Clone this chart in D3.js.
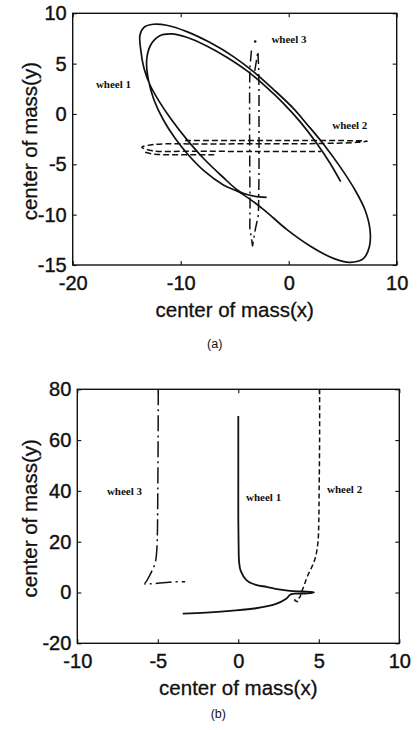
<!DOCTYPE html>
<html>
<head>
<meta charset="utf-8">
<script src="https://cdn.jsdelivr.net/npm/d3@7"></script>
<style>
body { margin: 0; background: #fff; }
text { font-family: "Liberation Sans", Arial, sans-serif; fill: #111; }
.lbl { font-family: "Liberation Serif", "Times New Roman", serif; font-weight: bold; font-size: 11px; }
</style>
</head>
<body>
<script>
// ---- panel (a) data : center of mass trajectories
var xTicksA = [-20, -10, 0, 10];
var yTicksA = [-15, -10, -5, 0, 5, 10];

// wheel 1: precessing ellipse
var wheel1A = [[4.81,-6.72],[3.83,-4.90],[2.59,-2.91],[1.05,-0.76],[-0.49,1.06],[-2.04,2.65],
  [-3.89,4.30],[-5.74,5.63],[-7.59,6.75],[-9.44,7.62],[-10.83,7.95],[-11.98,7.75],[-12.78,6.85],
  [-13.15,5.36],[-12.99,3.38],[-12.47,1.39],[-11.60,-0.60],[-10.52,-2.42],[-9.29,-4.07],
  [-7.75,-5.73],[-6.05,-7.05],[-4.51,-7.81],[-2.35,-9.47],[-0.19,-11.46],[1.98,-13.11],
  [4.14,-14.34],[5.68,-14.74],[6.91,-14.37],[7.47,-13.18],[7.53,-11.52],[7.07,-9.54],
  [6.14,-7.55],[4.75,-5.23],[3.21,-2.98],[1.67,-0.99],[0.43,0.56],[-1.42,2.45],[-3.27,4.21],
  [-5.12,5.70],[-7.28,7.09],[-9.44,8.18],[-11.30,8.81],[-12.53,8.91],[-13.40,8.61],
  [-13.77,7.85],[-13.70,6.36],[-13.40,4.54],[-12.84,2.88],[-11.98,1.23],[-10.83,-0.60],
  [-9.44,-2.52],[-7.90,-4.40],[-6.20,-6.16],[-4.51,-7.72],[-3.27,-8.15],[-2.04,-8.28]];

// wheel 2: long flat loop (dashed)
var wheel2A = [[-9.6,-2.64],[-5,-2.63],[0,-2.63],[4,-2.64],[6.3,-2.66],[7.27,-2.7],[6.3,-2.82],
  [3,-2.93],[-2,-2.96],[-8,-2.98],[-12.4,-3.02],[-13.6,-3.3],[-12.6,-3.66],[-9,-3.7],
  [-3,-3.72],[3.0,-3.72]];
var wheel2A2 = [[-6.9,-4.05],[-10,-4.05],[-12.4,-4.0],[-13.3,-3.8]];

// wheel 3: narrow vertical loop (dash-dot)
var wheel3A = [[-3.45,6.3],[-3.6,4.5],[-3.62,2],[-3.62,-2],[-3.6,-6],[-3.58,-9],[-3.6,-11.3],
  [-3.35,-13.1],[-3.1,-11.5],[-2.8,-10],[-2.75,-6],[-2.75,-2],[-2.75,2],[-2.78,4.5],
  [-2.85,6.2],[-3.2,3.9]];
var wheel3ADot = [[-3.1,7.2]];

var labelsA = [["wheel 1",-17.85,2.6],["wheel 3",-1.6,7.04],["wheel 2",4.03,-1.49]];

// ---- panel (b) data
var xTicksB = [-10, -5, 0, 5, 10];
var yTicksB = [-20, 0, 20, 40, 60, 80];

var wheel1B = [[0,69.5],[0,60],[0,45],[0,30],[0.02,18],[0.05,12],[0.15,8.5],[0.52,4.8],
  [1.1,3.0],[1.76,2.2],[2.5,1.2],[3.2,0.63],[4.0,0.4],[4.7,0.1],[4.3,-0.35],[3.6,-0.45],
  [3.3,-0.6],[3.2,-1.0],[2.95,-2.6],[2.3,-4.6],[1.1,-6.2],[-0.5,-7.2],[-2.0,-7.9],[-3.45,-8.3]];

var wheel2B = [[5.05,80],[5.05,60],[5.02,40],[5.0,28],[4.95,20],[4.8,14],[4.6,10.5],[4.3,6.5],
  [4.1,3],[3.95,0.5],[3.85,-1.5],[3.8,-2.0],[3.5,-3.0],[3.77,-3.8]];

var wheel3B = [[-4.97,80],[-4.98,60],[-5.0,40],[-5.02,25],[-5.05,18],[-5.15,12],[-5.4,8],
  [-5.65,5],[-5.8,3.4],[-5.5,3.4],[-5.0,3.6],[-4.5,3.9],[-4.0,4.2],[-3.3,4.2]];

var labelsB = [["wheel 3",-8.16,38.3],["wheel 1",0.48,35.9],["wheel 2",5.51,39.1]];

var width = 418, height = 730;

var svg = d3.select("body").append("svg")
    .attr("width", width)
    .attr("height", height);

// plain hyphen minus like the original figure
var fmt = function (d) { return String(d); };

function drawPanel(p) {
    var x = d3.scaleLinear().domain(d3.extent(p.xTicks)).range([p.left, p.right]);
    var y = d3.scaleLinear().domain(d3.extent(p.yTicks)).range([p.bottom, p.top]);

    var g = svg.append("g");

    // inward ticks on all four sides, labels only bottom / left
    var axes = [
        [d3.axisBottom(x).tickValues(p.xTicks).tickSize(-4).tickPadding(11).tickFormat(fmt), p.bottom, "x"],
        [d3.axisTop(x).tickValues(p.xTicks).tickSize(-4).tickFormat(""), p.top, "x"],
        [d3.axisLeft(y).tickValues(p.yTicks).tickSize(-4).tickPadding(6).tickFormat(fmt), p.left, "y"],
        [d3.axisRight(y).tickValues(p.yTicks).tickSize(-4).tickFormat(""), p.right, "y"]
    ];
    axes.forEach(function (a) {
        var ag = g.append("g")
            .attr("transform", a[2] == "x" ? "translate(0," + a[1] + ")" : "translate(" + a[1] + ",0)")
            .call(a[0]);
        ag.select(".domain").remove();
        ag.selectAll("line").attr("stroke", "#111").attr("stroke-width", 1.1);
        ag.attr("font-size", null).attr("font-family", null);
        ag.selectAll("text")
            .style("font-size", "20px")
            .attr("fill", "#111")
            .attr("stroke", "#111")
            .attr("stroke-width", 0.4);
    });

    // frame
    g.append("rect")
        .attr("x", p.left).attr("y", p.top)
        .attr("width", p.right - p.left).attr("height", p.bottom - p.top)
        .attr("fill", "none").attr("stroke", "#111").attr("stroke-width", 1.4);

    var line = d3.line()
        .x(function (d) { return x(d[0]); })
        .y(function (d) { return y(d[1]); });

    p.series.forEach(function (s) {
        g.append("path")
            .datum(s.data)
            .attr("fill", "none")
            .attr("stroke", "#111")
            .attr("stroke-width", s.w)
            .attr("stroke-dasharray", s.dash)
            .attr("stroke-linejoin", "round")
            .attr("d", line.curve(s.smooth ? d3.curveCatmullRom.alpha(0.5) : d3.curveLinear));
    });

    (p.dots || []).forEach(function (d) {
        g.append("circle").attr("cx", x(d[0])).attr("cy", y(d[1])).attr("r", 1.3).attr("fill", "#111");
    });

    g.selectAll(".lbl").data(p.labels).enter().append("text")
        .attr("class", "lbl")
        .attr("x", function (d) { return x(d[1]); })
        .attr("y", function (d) { return y(d[2]); })
        .text(function (d) { return d[0]; });

    var cx = (p.left + p.right) / 2, cy = (p.top + p.bottom) / 2;
    g.append("text")
        .attr("x", cx).attr("y", p.bottom + 52)
        .attr("text-anchor", "middle")
        .style("font-size", "20.5px")
        .attr("stroke", "#111").attr("stroke-width", 0.3)
        .text("center of mass(x)");
    g.append("text")
        .attr("transform", "translate(37," + (cy + 2) + ") rotate(-90)")
        .attr("text-anchor", "middle")
        .style("font-size", "20.5px")
        .attr("stroke", "#111").attr("stroke-width", 0.3)
        .text("center of mass(y)");
    g.append("text")
        .attr("x", cx - 20).attr("y", p.capY)
        .attr("text-anchor", "middle")
        .style("font-size", "12.5px")
        .text(p.caption);
}

drawPanel({
    left: 72.7, right: 396.7, top: 13.3, bottom: 265,
    xTicks: xTicksA, yTicks: yTicksA,
    series: [
        { data: wheel1A, w: 1.7, dash: null, smooth: true },
        { data: wheel2A, w: 1.5, dash: "6,3", smooth: true },
        { data: wheel2A2, w: 1.5, dash: "6,3", smooth: true },
        { data: wheel3A, w: 1.5, dash: "11,4,2,4", smooth: false }
    ],
    dots: wheel3ADot,
    labels: labelsA,
    capY: 348, caption: "(a)"
});

drawPanel({
    left: 77.3, right: 399.3, top: 389.3, bottom: 643.3,
    xTicks: xTicksB, yTicks: yTicksB,
    series: [
        { data: wheel1B, w: 1.8, dash: null, smooth: true },
        { data: wheel2B, w: 1.5, dash: "5,3", smooth: true },
        { data: wheel3B, w: 1.5, dash: "16,4,2,4", smooth: true }
    ],
    labels: labelsB,
    capY: 718, caption: "(b)"
});
</script>
</body>
</html>
